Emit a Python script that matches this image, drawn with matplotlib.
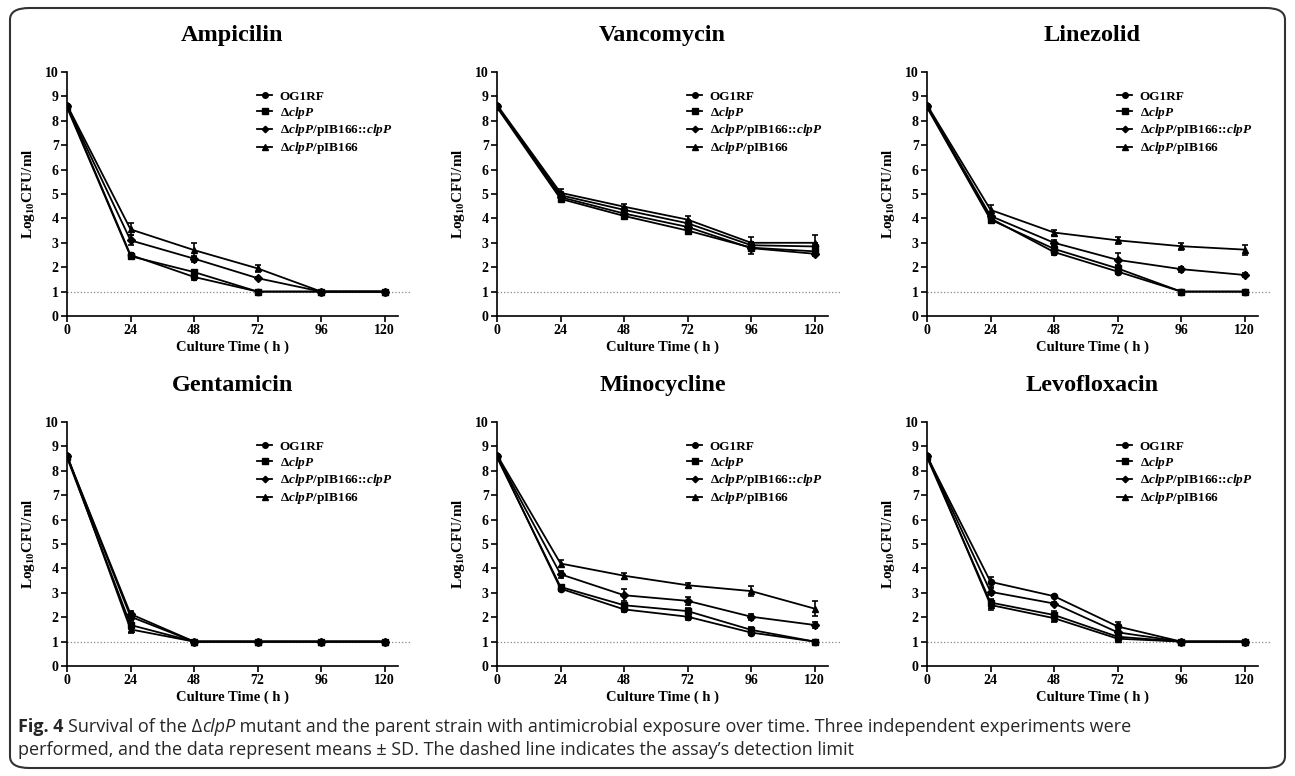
import matplotlib
matplotlib.use("Agg")
import matplotlib.pyplot as plt
from matplotlib.lines import Line2D
from matplotlib.patches import FancyBboxPatch

plt.rcParams["font.family"] = ["Liberation Serif", "DejaVu Sans"]
plt.rcParams["font.weight"] = "bold"
plt.rcParams["axes.labelweight"] = "bold"
plt.rcParams["mathtext.fontset"] = "custom"
plt.rcParams["mathtext.rm"] = "Liberation Serif:bold"
plt.rcParams["mathtext.it"] = "Liberation Serif:italic:bold"
plt.rcParams["mathtext.bf"] = "Liberation Serif:bold"
plt.rcParams["mathtext.fallback"] = "stix"

times = [0, 24, 48, 72, 96, 120]
strains = ["OG1RF", "Δ$clpP$", "Δ$clpP$/pIB166::$clpP$", "Δ$clpP$/pIB166"]
markers = ["o", "s", "D", "^"]
msizes = [4.5, 4.5, 3.8, 5]
detection_limit = 1.0

drugs = ["Ampicilin", "Vancomycin", "Linezolid",
         "Gentamicin", "Minocycline", "Levofloxacin"]

# mean log10 CFU/ml, order: OG1RF, clpP, clpP/pIB166::clpP, clpP/pIB166
ampicilin = [
    [8.60, 2.50, 1.60, 1.00, 1.00, 1.00],
    [8.55, 2.45, 1.80, 1.00, 1.00, 1.00],
    [8.60, 3.10, 2.35, 1.55, 1.00, 1.00],
    [8.65, 3.55, 2.70, 1.95, 1.00, 1.00],
]
ampicilin_sd = [
    [0.05, 0.10, 0.12, 0.00, 0.00, 0.00],
    [0.05, 0.12, 0.10, 0.00, 0.00, 0.00],
    [0.05, 0.20, 0.12, 0.05, 0.00, 0.00],
    [0.05, 0.25, 0.30, 0.15, 0.00, 0.00],
]
vancomycin = [
    [8.60, 4.95, 4.35, 3.80, 2.90, 2.85],
    [8.55, 4.80, 4.10, 3.50, 2.80, 2.65],
    [8.60, 4.87, 4.20, 3.65, 2.78, 2.55],
    [8.65, 5.05, 4.48, 3.95, 3.00, 3.00],
]
vancomycin_sd = [
    [0.05, 0.12, 0.10, 0.15, 0.12, 0.15],
    [0.05, 0.10, 0.12, 0.12, 0.15, 0.12],
    [0.05, 0.10, 0.12, 0.10, 0.25, 0.10],
    [0.05, 0.15, 0.10, 0.15, 0.25, 0.30],
]
linezolid = [
    [8.60, 4.00, 2.62, 1.82, 1.00, 1.00],
    [8.55, 3.95, 2.75, 1.95, 1.00, 1.00],
    [8.60, 4.10, 3.00, 2.30, 1.92, 1.68],
    [8.65, 4.35, 3.42, 3.10, 2.86, 2.72],
]
linezolid_sd = [
    [0.05, 0.12, 0.10, 0.10, 0.00, 0.00],
    [0.05, 0.10, 0.15, 0.15, 0.00, 0.00],
    [0.05, 0.15, 0.10, 0.30, 0.10, 0.08],
    [0.05, 0.18, 0.10, 0.15, 0.15, 0.20],
]
gentamicin = [
    [8.60, 2.02, 1.00, 1.00, 1.00, 1.00],
    [8.55, 1.68, 1.00, 1.00, 1.00, 1.00],
    [8.60, 2.13, 1.00, 1.00, 1.00, 1.00],
    [8.65, 1.50, 1.00, 1.00, 1.00, 1.00],
]
gentamicin_sd = [
    [0.05, 0.15, 0.00, 0.00, 0.00, 0.00],
    [0.05, 0.15, 0.00, 0.00, 0.00, 0.00],
    [0.05, 0.12, 0.00, 0.00, 0.00, 0.00],
    [0.05, 0.15, 0.00, 0.00, 0.00, 0.00],
]
minocycline = [
    [8.60, 3.17, 2.32, 2.02, 1.37, 1.00],
    [8.55, 3.24, 2.49, 2.25, 1.48, 1.00],
    [8.60, 3.76, 2.90, 2.67, 2.02, 1.68],
    [8.65, 4.20, 3.70, 3.31, 3.07, 2.35],
]
minocycline_sd = [
    [0.05, 0.08, 0.10, 0.12, 0.08, 0.00],
    [0.05, 0.10, 0.10, 0.12, 0.10, 0.00],
    [0.05, 0.15, 0.25, 0.15, 0.12, 0.12],
    [0.05, 0.15, 0.12, 0.10, 0.20, 0.30],
]
levofloxacin = [
    [8.60, 3.45, 2.86, 1.62, 1.00, 1.00],
    [8.55, 2.60, 2.09, 1.20, 1.00, 1.00],
    [8.60, 3.04, 2.56, 1.38, 1.00, 1.00],
    [8.65, 2.50, 1.96, 1.12, 1.00, 1.00],
]
levofloxacin_sd = [
    [0.05, 0.20, 0.05, 0.20, 0.00, 0.00],
    [0.05, 0.15, 0.15, 0.10, 0.00, 0.00],
    [0.05, 0.15, 0.05, 0.10, 0.00, 0.00],
    [0.05, 0.20, 0.15, 0.08, 0.00, 0.00],
]

means = [ampicilin, vancomycin, linezolid, gentamicin, minocycline, levofloxacin]
sds = [ampicilin_sd, vancomycin_sd, linezolid_sd,
       gentamicin_sd, minocycline_sd, levofloxacin_sd]


def draw_panel(ax, title, data, err):
    handles = []
    for i, strain in enumerate(strains):
        ax.errorbar(times, data[i], yerr=err[i], color="black", lw=1.3,
                    marker=markers[i], ms=msizes[i], capsize=2.5,
                    elinewidth=1.2, capthick=1.2)
        handles.append(Line2D([], [], color="black", lw=1.3,
                              marker=markers[i], ms=msizes[i] - 0.5,
                              label=strain))
    ax.plot([0, 130], [detection_limit, detection_limit], ls=":",
            color="#888888", lw=0.9, clip_on=False, zorder=0)
    ax.set_xlim(0, 125)
    ax.set_ylim(0, 10)
    ax.set_xticks(times)
    ax.set_yticks(range(11))
    for s in ["top", "right"]:
        ax.spines[s].set_visible(False)
    for s in ["left", "bottom"]:
        ax.spines[s].set_linewidth(1.2)
    ax.tick_params(direction="out", length=4, width=1.2, labelsize=10, pad=2)
    for lab in ax.get_xticklabels() + ax.get_yticklabels():
        lab.set_fontweight("bold")
    ax.set_xlabel("Culture Time ( h )", fontsize=10.5, labelpad=2)
    ax.set_ylabel("Log$_{10}$CFU/ml", fontsize=11, labelpad=6)
    ax.text(0.5, 1.15, title, transform=ax.transAxes, ha="center",
            va="center", fontsize=17.5, fontweight="bold")
    ax.legend(handles=handles, loc="upper left", bbox_to_anchor=(0.575, 0.925),
              frameon=False, fontsize=9.5, handlelength=1.1,
              handletextpad=0.6, labelspacing=0.15, borderpad=0,
              borderaxespad=0, numpoints=1)


def caption_line(fig, renderer, x, y, pieces):
    # draw text pieces one after another on one line
    for text, style in pieces:
        t = fig.text(x, y, text, va="center", family="Open Sans",
                     fontsize=13, color="#262626", **style)
        bb = t.get_window_extent(renderer)
        x = bb.x1 / fig.bbox.width


def main():
    fig = plt.figure(figsize=(12.95, 7.76), dpi=100)
    W, H = 1295, 776
    lefts = [67, 497, 927]
    tops = [72, 422]
    ax_w, ax_h = 331, 244
    for k, drug in enumerate(drugs):
        x0 = lefts[k % 3]
        y0 = tops[k // 3]
        ax = fig.add_axes([x0 / W, 1 - (y0 + ax_h) / H, ax_w / W, ax_h / H])
        draw_panel(ax, drug, means[k], sds[k])

    box = FancyBboxPatch((10 / W, 8 / H), 1275 / W, 760 / H,
                         boxstyle="round,pad=0,rounding_size=0.015",
                         transform=fig.transFigure, fill=False,
                         ec="#333333", lw=1.5)
    fig.patches.append(box)

    renderer = fig.canvas.get_renderer()
    normal = dict(fontweight="normal", fontstyle="normal")
    caption_line(fig, renderer, 18 / W, 1 - 727 / H, [
        ("Fig. 4 ", dict(fontweight="bold")),
        ("Survival of the Δ", normal),
        ("clpP", dict(fontweight="normal", fontstyle="italic")),
        (" mutant and the parent strain with antimicrobial exposure over "
         "time. Three independent experiments were", normal),
    ])
    caption_line(fig, renderer, 18 / W, 1 - 750 / H, [
        ("performed, and the data represent means ± SD. The dashed line "
         "indicates the assay’s detection limit", normal),
    ])

    plt.savefig("out.png", dpi=100)


if __name__ == "__main__":
    main()
